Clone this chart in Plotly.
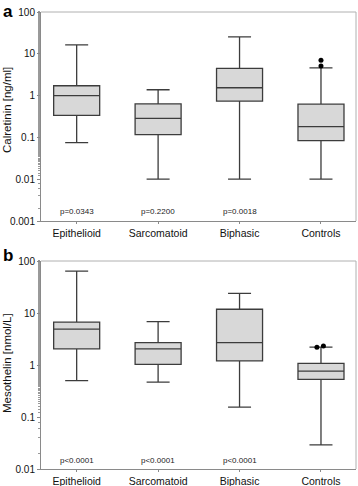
import plotly.graph_objects as go

categories = ["Epithelioid", "Sarcomatoid", "Biphasic", "Controls"]
positions = [1, 2, 3, 4]

# Panel a: Calretinin [ng/ml]
cal_low = [0.075, 0.01, 0.01, 0.01]
cal_q1 = [0.335, 0.117, 0.74, 0.084]
cal_med = [1.0, 0.284, 1.54, 0.182]
cal_q3 = [1.72, 0.636, 4.49, 0.625]
cal_high = [16.3, 1.38, 25.5, 4.6]
cal_out_x = [4, 4]
cal_out_y = [6.98, 5.1]
cal_p = ["p=0.0343", "p=0.2200", "p=0.0018"]

# Panel b: Mesothelin [nmol/L]
mes_low = [0.5, 0.47, 0.155, 0.029]
mes_q1 = [2.05, 1.03, 1.2, 0.53]
mes_med = [4.9, 2.05, 2.7, 0.76]
mes_q3 = [6.7, 2.7, 11.8, 1.07]
mes_high = [64, 6.8, 23.8, 2.2]
mes_out_x = [3.95, 4.03]
mes_out_y = [2.2, 2.32]
mes_p = ["p<0.0001", "p<0.0001", "p<0.0001"]

FILL = "#d8d8d8"
LINE = "#3c3c3c"
FONT = "Liberation Sans, Arial, sans-serif"

fig = go.Figure()

fig.add_trace(go.Box(
    x=positions, q1=cal_q1, median=cal_med, q3=cal_q3,
    lowerfence=cal_low, upperfence=cal_high,
    fillcolor=FILL, line=dict(color=LINE, width=1.3),
    width=0.565, whiskerwidth=0.5, boxpoints=False,
    xaxis="x", yaxis="y", showlegend=False))
fig.add_trace(go.Scatter(
    x=cal_out_x, y=cal_out_y, mode="markers",
    marker=dict(color="#000000", size=5),
    xaxis="x", yaxis="y", showlegend=False))

fig.add_trace(go.Box(
    x=positions, q1=mes_q1, median=mes_med, q3=mes_q3,
    lowerfence=mes_low, upperfence=mes_high,
    fillcolor=FILL, line=dict(color=LINE, width=1.3),
    width=0.565, whiskerwidth=0.5, boxpoints=False,
    xaxis="x2", yaxis="y2", showlegend=False))
fig.add_trace(go.Scatter(
    x=mes_out_x, y=mes_out_y, mode="markers",
    marker=dict(color="#000000", size=5),
    xaxis="x2", yaxis="y2", showlegend=False))

xr = [0.562, 4.43]
xcommon = dict(range=xr, tickvals=positions, ticktext=categories,
               showgrid=False, zeroline=False, showline=True, automargin=False,
               linecolor="#8a8a8a", linewidth=1, mirror=False,
               ticks="outside", ticklen=2, tickcolor="#8a8a8a",
               tickfont=dict(family=FONT, size=10.5, color="#111111"))
ycommon = dict(type="log", showgrid=False, zeroline=False, showline=True, automargin=False,
               linecolor="#8a8a8a", linewidth=1,
               ticks="outside", ticklen=3, tickcolor="#8a8a8a",
               tickfont=dict(family=FONT, size=10, color="#111111"),
               minor=dict(ticks="outside", ticklen=2, tickcolor="#9a9a9a", showgrid=False))

TOP, BOT = 12, 17
H = 486 - TOP - BOT


def py(p):
    return (486 - BOT - p) / H


fig.update_layout(
    width=358, height=486,
    margin=dict(l=41, r=2, t=TOP, b=BOT),
    paper_bgcolor="white", plot_bgcolor="white",
    font=dict(family=FONT, size=11, color="#111111"),
    xaxis=dict(**xcommon, domain=[0, 1], anchor="y"),
    yaxis=dict(**ycommon, domain=[py(221), 1.0], anchor="x",
               range=[-3, 2], tickvals=[0.001, 0.01, 0.1, 1, 10, 100],
               ticktext=["0.001", "0.01", "0.1", "1", "10", "100"]),
    xaxis2=dict(**xcommon, domain=[0, 1], anchor="y2"),
    yaxis2=dict(**ycommon, domain=[0.0, py(261)], anchor="x2",
                range=[-2, 2], tickvals=[0.01, 0.1, 1, 10, 100],
                ticktext=["0.01", "0.1", "1", "10", "100"]),
)

shapes = []
for xa, ya in [("x", "y"), ("x2", "y2")]:
    shapes.append(dict(type="line", xref=xa + " domain", yref=ya + " domain",
                       x0=0, x1=1, y0=1, y1=1, line=dict(color="#b0b0b0", width=1)))
    shapes.append(dict(type="line", xref=xa + " domain", yref=ya + " domain",
                       x0=1, x1=1, y0=0, y1=1, line=dict(color="#b0b0b0", width=1)))
fig.update_layout(shapes=shapes)

ann = []
for i, t in enumerate(cal_p):
    ann.append(dict(x=positions[i], y=-2.78, xref="x", yref="y", text=t,
                    xanchor="center", yanchor="middle",
                    showarrow=False, font=dict(family=FONT, size=8, color="#222222")))
for i, t in enumerate(mes_p):
    ann.append(dict(x=positions[i], y=-1.83, xref="x2", yref="y2", text=t,
                    xanchor="center", yanchor="middle",
                    showarrow=False, font=dict(family=FONT, size=8, color="#222222")))
# axis titles
ann.append(dict(x=(7 - 41) / 315, y=py(110), xref="paper", yref="paper",
                xanchor="center", yanchor="middle",
                text="Calretinin [ng/ml]", textangle=-90, showarrow=False,
                font=dict(family=FONT, size=11.5, color="#111111")))
ann.append(dict(x=(7 - 41) / 315, y=py(363), xref="paper", yref="paper",
                xanchor="center", yanchor="middle",
                text="Mesothelin [nmol/L]", textangle=-90, showarrow=False,
                font=dict(family=FONT, size=11.5, color="#111111")))
# panel letters
ann.append(dict(x=(1 - 41) / 315, y=py(0), xref="paper", yref="paper",
                xanchor="left", yanchor="top", text="<b>a</b>", showarrow=False,
                font=dict(family=FONT, size=17, color="#000000")))
ann.append(dict(x=(1 - 41) / 315, y=py(244), xref="paper", yref="paper",
                xanchor="left", yanchor="top", text="<b>b</b>", showarrow=False,
                font=dict(family=FONT, size=17, color="#000000")))
fig.update_layout(annotations=ann)

fig.write_html("out.html", config={"displayModeBar": False},
               post_script="document.body.style.margin='0';")
